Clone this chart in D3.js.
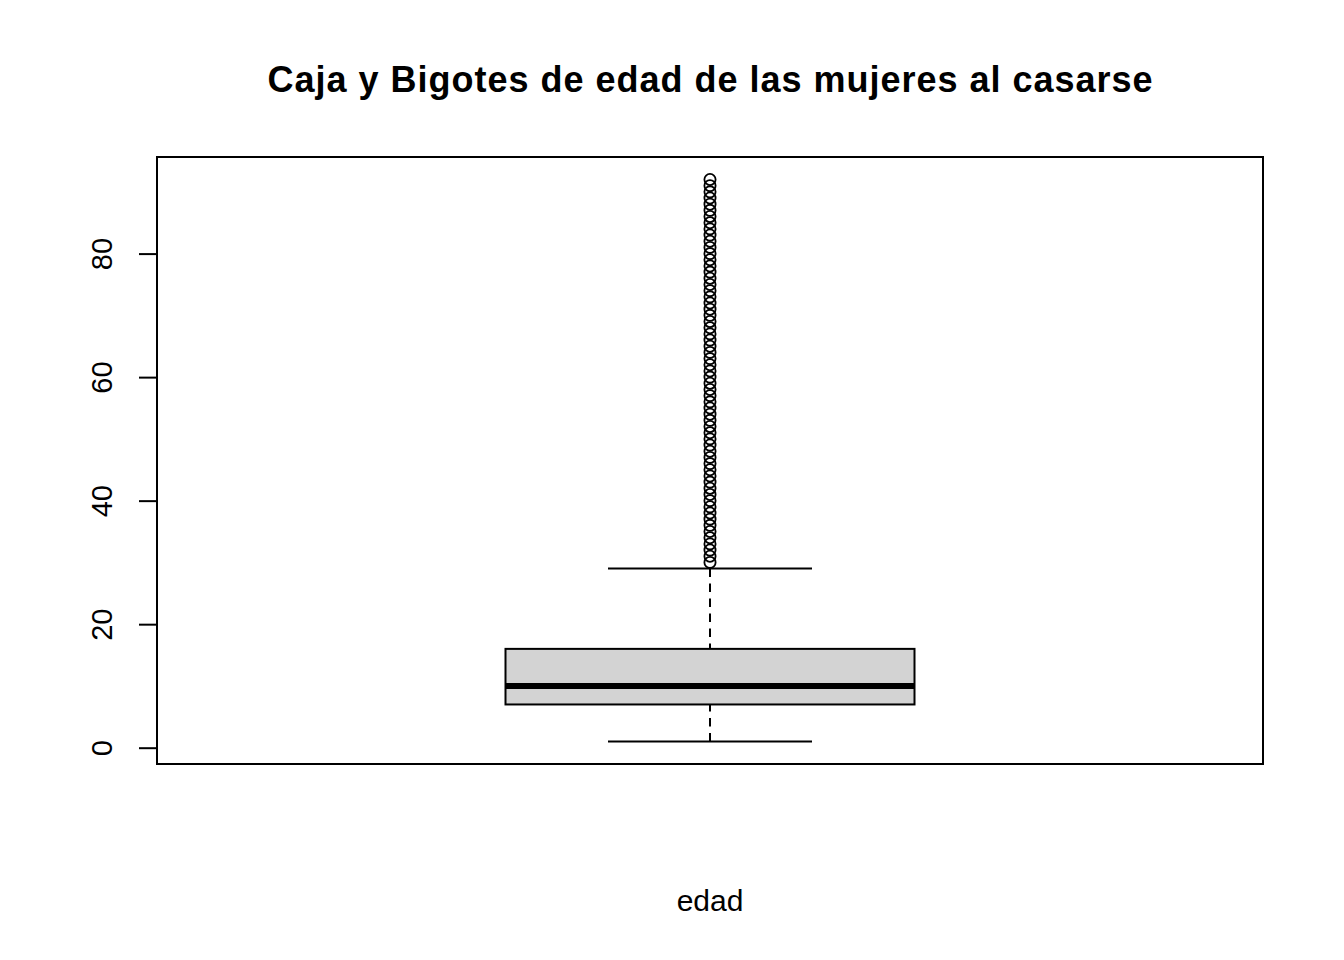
<!DOCTYPE html>
<html><head><meta charset="utf-8">
<script src="https://cdn.jsdelivr.net/npm/d3@7"></script>
<style>body{margin:0;background:#fff}svg{display:block}text{font-family:"Liberation Sans",Arial,sans-serif}</style>
</head><body>
<script>
const title = "Caja y Bigotes de edad de las mujeres al casarse";
const category = ["edad"];
const stats = {lowerWhisker: 1, q1: 7, median: 10, q3: 16, upperWhisker: 29};
const outliers = [30,31,32,33,34,35,36,37,38,39,40,41,42,43,44,45,46,47,48,49,50,51,52,53,54,55,56,57,58,59,60,61,62,63,64,65,66,67,68,69,70,71,72,73,74,75,76,77,78,79,80,81,82,83,84,85,86,87,88,89,90,91,92];
const yTicks = [0,20,40,60,80];

const W=1344,H=960;
const L=157,R=1263,T=157,B=764;
const svg=d3.select("body").append("svg").attr("width",W).attr("height",H);

const lo=1, hi=92, pad=(hi-lo)*0.04;
const y=d3.scaleLinear().domain([lo-pad,hi+pad]).range([B,T]);
const x=d3.scaleBand().domain(category).range([L,R]);
const cx=x(category[0])+x.bandwidth()/2;
const boxW=409, capW=204;

// plot frame
svg.append("rect").attr("x",L).attr("y",T).attr("width",R-L).attr("height",B-T)
  .attr("fill","none").attr("stroke","#000").attr("stroke-width",2);

// y axis
const ax=svg.append("g").attr("transform",`translate(${L},0)`)
  .call(d3.axisLeft(y).tickValues(yTicks).tickSize(18).tickPadding(0).tickFormat(d3.format("d")));
ax.select(".domain").attr("stroke","#000").attr("stroke-width",2)
  .attr("d",`M0,${y(0)}V${y(80)}`);
ax.selectAll(".tick line").attr("stroke","#000").attr("stroke-width",2);
ax.selectAll(".tick text").attr("font-size",29).attr("fill","#000")
  .attr("text-anchor","middle").attr("dy",0)
  .attr("transform","translate(-45,0) rotate(-90)").attr("x",0).attr("y",0);

const g=svg.append("g");
// whiskers (dashed), drawn from whisker end toward box
g.append("line").attr("x1",cx).attr("x2",cx).attr("y1",y(stats.upperWhisker)).attr("y2",y(stats.q3))
  .attr("stroke","#000").attr("stroke-width",2).attr("stroke-dasharray","8.5,6.5");
g.append("line").attr("x1",cx).attr("x2",cx).attr("y1",y(stats.lowerWhisker)).attr("y2",y(stats.q1))
  .attr("stroke","#000").attr("stroke-width",2).attr("stroke-dasharray","8.5,6.5");
// caps
[stats.upperWhisker, stats.lowerWhisker].forEach(v=>{
  g.append("line").attr("x1",cx-capW/2).attr("x2",cx+capW/2).attr("y1",y(v)).attr("y2",y(v))
    .attr("stroke","#000").attr("stroke-width",2);
});
// box
g.append("rect").attr("x",cx-boxW/2).attr("width",boxW)
  .attr("y",y(stats.q3)).attr("height",y(stats.q1)-y(stats.q3))
  .attr("fill","#d3d3d3").attr("stroke","#000").attr("stroke-width",2);
// median
g.append("line").attr("x1",cx-boxW/2).attr("x2",cx+boxW/2).attr("y1",y(stats.median)).attr("y2",y(stats.median))
  .attr("stroke","#000").attr("stroke-width",6);
// outliers
g.selectAll("circle").data(outliers).join("circle")
  .attr("cx",cx).attr("cy",d=>y(d)).attr("r",5.6)
  .attr("fill","none").attr("stroke","#000").attr("stroke-width",1.8);

// title
svg.append("text").attr("x",(L+R)/2).attr("y",92).attr("text-anchor","middle")
  .attr("font-size",36).attr("font-weight","bold")
  .attr("textLength",885).attr("lengthAdjust","spacing").text(title);
// x label
svg.append("text").attr("x",cx).attr("y",911).attr("text-anchor","middle")
  .attr("font-size",30).text(category[0]);
</script>
</body></html>
